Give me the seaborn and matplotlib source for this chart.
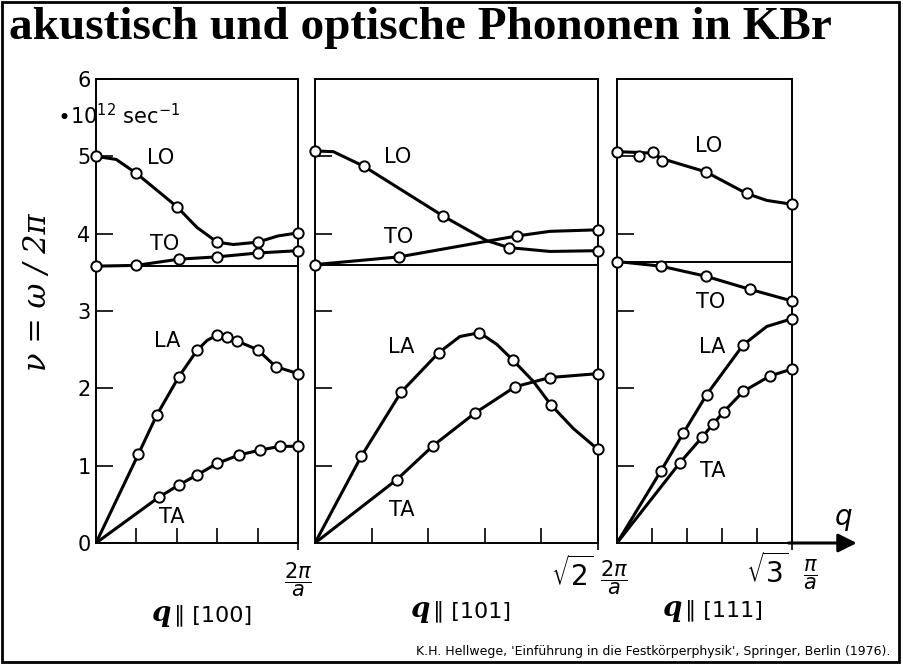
import numpy as np
import matplotlib
matplotlib.use("Agg")
import matplotlib.pyplot as plt
import seaborn as sns
from matplotlib.patches import Rectangle

# ---------------- data (q in units of 2*pi/a, nu in 1e12 1/s) ----------------
spans = [1.0, np.sqrt(2), np.sqrt(3) / 2]
end_roots = ["", r"$\sqrt{2}$", r"$\sqrt{3}$"]
end_fracs = [r"$\dfrac{2\pi}{a}$", r"$\dfrac{2\pi}{a}$", r"$\dfrac{\pi}{a}$"]
dir_labels = ["[100]", "[101]", "[111]"]
branch_names = ["LO", "TO", "LA", "TA"]

# panel 1: q || [100]
p1_LO_x = [0, 0.2, 0.4, 0.6, 0.8, 1.0]
p1_LO_y = [5.00, 4.78, 4.35, 3.89, 3.89, 4.01]
p1_LO_cx = [0, 0.1, 0.2, 0.4, 0.5, 0.6, 0.68, 0.8, 0.9, 1.0]
p1_LO_cy = [5.00, 4.96, 4.78, 4.35, 4.08, 3.89, 3.86, 3.89, 3.97, 4.01]
p1_TO_x = [0, 0.2, 0.41, 0.6, 0.8, 1.0]
p1_TO_y = [3.58, 3.59, 3.67, 3.70, 3.75, 3.78]
p1_LA_x = [0.21, 0.30, 0.41, 0.50, 0.60, 0.65, 0.70, 0.80, 0.89, 1.0]
p1_LA_y = [1.15, 1.65, 2.15, 2.49, 2.69, 2.67, 2.61, 2.50, 2.28, 2.19]
p1_LA_cx = [0, 0.21, 0.30, 0.41, 0.50, 0.55, 0.60, 0.65, 0.70, 0.80, 0.89, 1.0]
p1_LA_cy = [0, 1.15, 1.65, 2.15, 2.49, 2.62, 2.69, 2.67, 2.61, 2.50, 2.28, 2.19]
p1_TA_x = [0.31, 0.41, 0.50, 0.60, 0.71, 0.81, 0.91, 1.0]
p1_TA_y = [0.59, 0.75, 0.88, 1.03, 1.14, 1.20, 1.25, 1.25]

# panel 2: q || [101]
p2_LO_x = [0, 0.245, 0.639, 0.969, 1.414]
p2_LO_y = [5.07, 4.87, 4.23, 3.82, 3.78]
p2_LO_cx = [0, 0.092, 0.245, 0.639, 0.858, 0.969, 1.174, 1.414]
p2_LO_cy = [5.07, 5.06, 4.87, 4.23, 3.91, 3.82, 3.77, 3.78]
p2_TO_x = [0, 0.420, 1.008, 1.414]
p2_TO_y = [3.60, 3.70, 3.97, 4.05]
p2_TO_cx = [0, 0.420, 1.008, 1.174, 1.414]
p2_TO_cy = [3.60, 3.70, 3.97, 4.03, 4.05]
p2_LA_x = [0.231, 0.430, 0.618, 0.822, 0.991, 1.178, 1.414]
p2_LA_y = [1.12, 1.95, 2.46, 2.72, 2.36, 1.79, 1.21]
p2_LA_cx = [0, 0.231, 0.430, 0.618, 0.724, 0.822, 0.908, 0.991, 1.091, 1.178, 1.291, 1.414]
p2_LA_cy = [0, 1.12, 1.95, 2.46, 2.67, 2.72, 2.57, 2.36, 2.09, 1.79, 1.48, 1.21]
p2_TA_x = [0.409, 0.591, 0.799, 1.000, 1.174, 1.414]
p2_TA_y = [0.82, 1.26, 1.68, 2.02, 2.14, 2.19]

# panel 3: q || [111]
p3_LO_x = [0, 0.109, 0.178, 0.222, 0.439, 0.641, 0.866]
p3_LO_y = [5.06, 5.00, 5.05, 4.94, 4.80, 4.52, 4.38]
p3_LO_cx = [0, 0.109, 0.178, 0.222, 0.439, 0.641, 0.741, 0.866]
p3_LO_cy = [5.06, 5.05, 5.04, 4.97, 4.80, 4.52, 4.43, 4.38]
p3_TO_x = [0, 0.217, 0.439, 0.658, 0.866]
p3_TO_y = [3.64, 3.58, 3.45, 3.28, 3.13]
p3_LA_x = [0.217, 0.328, 0.444, 0.624, 0.866]
p3_LA_y = [0.93, 1.42, 1.92, 2.56, 2.90]
p3_LA_cx = [0, 0.217, 0.328, 0.444, 0.624, 0.741, 0.866]
p3_LA_cy = [0, 0.93, 1.42, 1.92, 2.56, 2.80, 2.90]
p3_TA_x = [0.312, 0.422, 0.476, 0.529, 0.625, 0.757, 0.866]
p3_TA_y = [1.04, 1.37, 1.54, 1.70, 1.96, 2.16, 2.25]

# branch label positions (q, nu)
p1_lab_x = [0.32, 0.34, 0.35, 0.375]
p1_lab_y = [4.98, 3.87, 2.61, 0.33]
p2_lab_x = [0.415, 0.42, 0.43, 0.435]
p2_lab_y = [4.99, 3.96, 2.53, 0.43]
p3_lab_x = [0.455, 0.465, 0.47, 0.476]
p3_lab_y = [5.14, 3.11, 2.53, 0.93]

y_ticks = [0, 1, 2, 3, 4, 5, 6]

panels = [
    dict(LO=(p1_LO_x, p1_LO_y, p1_LO_cx, p1_LO_cy), TO=(p1_TO_x, p1_TO_y, p1_TO_x, p1_TO_y),
         LA=(p1_LA_x, p1_LA_y, p1_LA_cx, p1_LA_cy), TA=(p1_TA_x, p1_TA_y, [0] + p1_TA_x, [0] + p1_TA_y),
         lab=(p1_lab_x, p1_lab_y)),
    dict(LO=(p2_LO_x, p2_LO_y, p2_LO_cx, p2_LO_cy), TO=(p2_TO_x, p2_TO_y, p2_TO_cx, p2_TO_cy),
         LA=(p2_LA_x, p2_LA_y, p2_LA_cx, p2_LA_cy), TA=(p2_TA_x, p2_TA_y, [0] + p2_TA_x, [0] + p2_TA_y),
         lab=(p2_lab_x, p2_lab_y)),
    dict(LO=(p3_LO_x, p3_LO_y, p3_LO_cx, p3_LO_cy), TO=(p3_TO_x, p3_TO_y, p3_TO_x, p3_TO_y),
         LA=(p3_LA_x, p3_LA_y, p3_LA_cx, p3_LA_cy), TA=(p3_TA_x, p3_TA_y, [0] + p3_TA_x, [0] + p3_TA_y),
         lab=(p3_lab_x, p3_lab_y)),
]

# ---------------- figure ----------------
sns.set_style("white")
plt.rcParams['font.family'] = ['DejaVu Sans']
plt.rcParams['mathtext.fontset'] = 'dejavusans'
for k in ('text.color', 'axes.labelcolor', 'xtick.color', 'ytick.color', 'axes.edgecolor'):
    plt.rcParams[k] = 'black'

W, H = 904, 664
fig = plt.figure(figsize=(W / 100, H / 100), dpi=100)
fig.patch.set_facecolor('white')

def px_rect(x0, x1, ytop=79, ybot=543):
    return [x0 / W, 1 - ybot / H, (x1 - x0) / W, (ybot - ytop) / H]

panel_px = [(96, 298), (315, 598), (617, 792)]

for i, (pan, span, (x0, x1)) in enumerate(zip(panels, spans, panel_px)):
    ax = fig.add_axes(px_rect(x0, x1))
    ax.set_facecolor('none')
    ax.set_xlim(0, span)
    ax.set_ylim(0, 6)
    for s in ax.spines.values():
        s.set_linewidth(1.4)
        s.set_color('black')
    ax.set_xticks([span * f for f in (0.2, 0.4, 0.6, 0.8)])
    ax.set_xticks([span], minor=True)
    ax.set_xticklabels([])
    ax.tick_params(axis='x', which='major', direction='in', length=11, width=1.2, bottom=True)
    ax.tick_params(axis='x', which='minor', direction='out', length=5, width=1.2, bottom=True)
    if i == 0:
        ax.set_yticks(y_ticks)
        ax.set_yticklabels([str(t) for t in y_ticks], fontsize=15)
    else:
        ax.set_yticks(y_ticks[1:-1])
        ax.set_yticklabels([])
    ax.tick_params(axis='y', direction='in', length=12, width=1.2, left=True, pad=4)
    ax.set_xlabel('')
    ax.set_ylabel('')

    # separation line between optic and acoustic box
    ax.axhline(pan['TO'][1][0], color='black', lw=1.4, zorder=1)

    for b in branch_names:
        mx, my, cx, cy = pan[b]
        sns.lineplot(x=cx, y=cy, ax=ax, color='black', lw=2.2, estimator=None, sort=False,
                     zorder=3)
        sns.scatterplot(x=mx, y=my, ax=ax, s=55, facecolor='white', edgecolor='black',
                        linewidth=1.4, zorder=5, clip_on=False)
    lx, ly = pan['lab']
    for name, tx, ty in zip(branch_names, lx, ly):
        ax.text(tx, ty, name, ha='center', va='center', fontsize=15)

    if i == 2:
        ax.annotate('', xy=(1.37, 0), xytext=(0.98, 0), xycoords='axes fraction',
                    arrowprops=dict(arrowstyle='-|>', lw=2.2, color='black', mutation_scale=28,
                                    shrinkA=0, shrinkB=0),
                    annotation_clip=False)

# end-of-axis labels
frac_px = [(298, 580), (614, 578), (810, 575)]
root_px = [(0, 0), (594, 574), (789, 571)]
for (fx, fy), (rx, ry), fr, rt in zip(frac_px, root_px, end_fracs, end_roots):
    fig.text(fx / W, 1 - fy / H, fr, ha='center', va='center', fontsize=15)
    if rt:
        fig.text(rx / W, 1 - ry / H, rt, ha='right', va='center', fontsize=20)

# direction labels q || [hkl]
q_px = [(171, 621), (430, 617), (682, 616)]
for (qx, qy), d in zip(q_px, dir_labels):
    fig.text(qx / W, 1 - qy / H, 'q', ha='right', va='baseline', fontsize=20,
             family='DejaVu Serif', style='italic', weight='bold')
    fig.text((qx + 3) / W, 1 - qy / H, '\u2225 ' + d, ha='left', va='baseline', fontsize=16)

fig.text(844 / W, 1 - 517 / H, 'q', ha='center', va='center', fontsize=20, style='italic')

# axis label and unit
fig.text(38 / W, 1 - 292 / H, '\u03bd = \u03c9 / 2\u03c0', rotation=90, ha='center', va='center',
         fontsize=22, family='DejaVu Serif', style='italic')
fig.text(57 / W, 1 - 116 / H, r'$\bullet$10$^{12}$ sec$^{-1}$', ha='left', va='center', fontsize=15)

# title and source
fig.text(9 / W, 1 - 39 / H, 'akustisch und optische Phononen in KBr', ha='left', va='baseline',
         fontsize=34, family='Liberation Serif', weight='bold')
fig.text(890 / W, 1 - 652 / H,
         "K.H. Hellwege, 'Einführung in die Festkörperphysik', Springer, Berlin (1976).",
         ha='right', va='center', fontsize=9)

fig.add_artist(Rectangle((0.0025, 0.003), 0.9915, 0.994, transform=fig.transFigure,
                         fill=False, lw=2, ec='black'))

fig.savefig('out.png', dpi=100, facecolor='white')
